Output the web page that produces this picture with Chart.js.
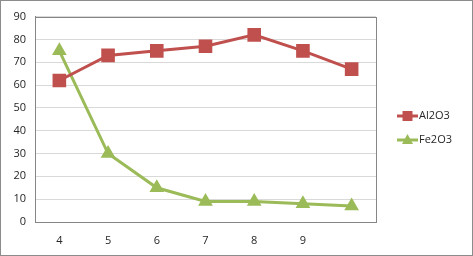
<!DOCTYPE html>
<html>
<head>
<meta charset="utf-8">
<script src="https://cdn.jsdelivr.net/npm/chart.js@4/dist/chart.umd.min.js"></script>
<style>
	html, body { margin: 0; padding: 0; background: #fff; }
	#wrap { width: 471px; height: 254px; border: 1px solid #8c8c8c; position: relative; }
</style>
</head>
<body>
<div id="wrap"><canvas id="chart"></canvas></div>
<script>
// values
const categories = ["4", "5", "6", "7", "8", "9", ""];
const al2o3 = [62, 73, 75, 77, 82, 75, 67];
const fe2o3 = [75, 30, 15, 9, 9, 8, 7];
const yTicks = [0, 10, 20, 30, 40, 50, 60, 70, 80, 90];

const red = "#C0504D";
const green = "#9BBB59";
const font = { family: "'Open Sans', 'DejaVu Sans', sans-serif", size: 11 };

// frame round the plot area plus a line-and-marker legend on the right
const framePlugin = {
	id: "frame",
	afterDraw(chart) {
		const { ctx, chartArea: a } = chart;
		ctx.save();
		ctx.strokeStyle = "#868686";
		ctx.lineWidth = 1;
		ctx.strokeRect(Math.round(a.left) + 0.5, Math.round(a.top) + 0.5,
			Math.round(a.right - a.left), Math.round(a.bottom - a.top));

		chart.data.datasets.forEach((ds, i) => {
			const y = 115 + i * 24;
			const x0 = 396;
			ctx.strokeStyle = ds.borderColor;
			ctx.lineWidth = 3;
			ctx.beginPath();
			ctx.moveTo(x0, y);
			ctx.lineTo(x0 + 21, y);
			ctx.stroke();
			ctx.fillStyle = ds.backgroundColor;
			ctx.beginPath();
			if (ds.pointStyle === "rect") {
				ctx.rect(x0 + 5.5, y - 5, 10, 10);
			} else {
				ctx.moveTo(x0 + 10.5, y - 6);
				ctx.lineTo(x0 + 16, y + 4);
				ctx.lineTo(x0 + 5, y + 4);
				ctx.closePath();
			}
			ctx.fill();
			ctx.fillStyle = "#262626";
			ctx.font = `${font.size}px ${font.family}`;
			ctx.textBaseline = "middle";
			ctx.fillText(ds.label, x0 + 22, y);
		});
		ctx.restore();
	},
};

new Chart(document.getElementById("chart"), {
	type: "line",
	data: {
		labels: categories,
		datasets: [
			{
				label: "Al2O3",
				data: al2o3,
				borderColor: red,
				backgroundColor: red,
				borderWidth: 3,
				pointStyle: "rect",
				pointRadius: 7.5,
				pointHoverRadius: 7.5,
				tension: 0,
			},
			{
				label: "Fe2O3",
				data: fe2o3,
				borderColor: green,
				backgroundColor: green,
				borderWidth: 3,
				pointStyle: "triangle",
				pointRadius: 5.5,
				pointHoverRadius: 5.5,
				tension: 0,
			},
		],
	},
	options: {
		responsive: true,
		maintainAspectRatio: false,
		animation: false,
		layout: { padding: { top: 14, right: 96, bottom: 0, left: 0 } },
		scales: {
			x: {
				offset: true,
				grid: { display: false, drawTicks: false },
				border: { color: "#868686" },
				ticks: { color: "#262626", font, padding: 12, maxRotation: 0 },
				afterFit: (scale) => { scale.height = 33; },
			},
			y: {
				min: 0,
				max: 90,
				afterBuildTicks: (scale) => {
					scale.ticks = yTicks.map((v) => ({ value: v }));
				},
				grid: { color: "#d9d9d9", drawTicks: false },
				border: { color: "#868686" },
				ticks: { color: "#262626", font, padding: 9 },
				afterFit: (scale) => { scale.width = 34; },
			},
		},
		plugins: {
			legend: { display: false },
			tooltip: { enabled: false },
		},
	},
	plugins: [framePlugin],
});
</script>
</body>
</html>
